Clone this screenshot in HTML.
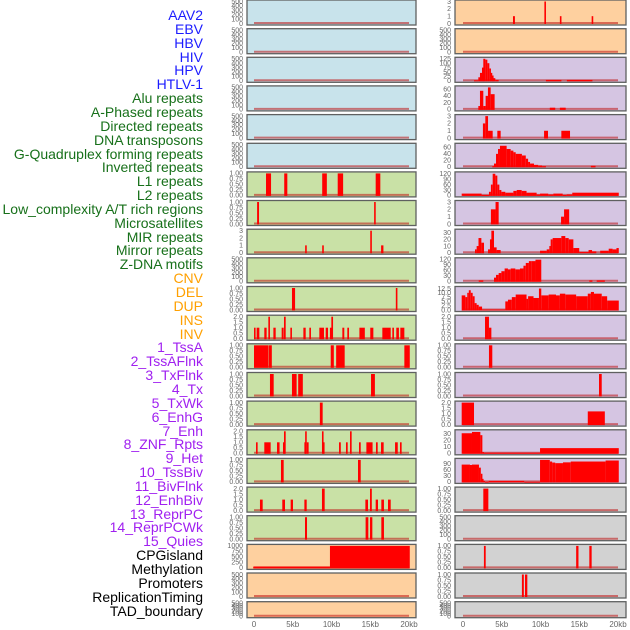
<!DOCTYPE html>
<html><head><meta charset="utf-8"><style>
html,body{margin:0;padding:0;background:#fff;}
#c{position:relative;width:630px;height:630px;overflow:hidden;}
.lab{position:absolute;right:427px;font:14px "Liberation Sans",sans-serif;white-space:nowrap;line-height:16px;}
</style></head><body>
<div id="c">
<svg id="svg" width="630" height="630" style="position:absolute;left:0;top:0"></svg>
</div>
<script>
// ---- labels ----
const labelNames = ["AAV2","EBV","HBV","HIV","HPV","HTLV-1","Alu repeats","A-Phased repeats","Directed repeats","DNA transposons","G-Quadruplex forming repeats","Inverted repeats","L1 repeats","L2 repeats","Low_complexity A/T rich regions","Microsatellites","MIR repeats","Mirror repeats","Z-DNA motifs","CNV","DEL","DUP","INS","INV","1_TssA","2_TssAFlnk","3_TxFlnk","4_Tx","5_TxWk","6_EnhG","7_Enh","8_ZNF_Rpts","9_Het","10_TssBiv","11_BivFlnk","12_EnhBiv","13_ReprPC","14_ReprPCWk","15_Quies","CPGisland","Methylation","Promoters","ReplicationTiming","TAD_boundary"];
const labelGroups = [0,0,0,0,0,0,1,1,1,1,1,1,1,1,1,1,1,1,1,2,2,2,2,2,3,3,3,3,3,3,3,3,3,3,3,3,3,3,3,4,4,4,4,4];
const groupColors = ["#1c1cff","#17701a","#ffa000","#a020f0","#000000"];

// ---- tick sets ----
const T500 = ["0","100","200","300","400","500"];
const T1 = ["0.00","0.25","0.50","0.75","1.00"];
const T2 = ["0.0","0.5","1.0","1.5","2.0"];
const T3 = ["0","1","2","3"];
const T60 = ["0","20","40","60"];
const T120 = ["0","30","60","90","120"];
const T125 = ["0","25","50","75","100","125"];
const T30 = ["0","10","20","30"];
const T1000 = ["0","250","500","750","1000"];
const T12 = ["0.0","2.5","5.0","7.5","10.0","12.5"];
const T90 = ["0","30","60","90"];

// ---- left column data: [startKb, endKb, value] ----
const L6 = [[1.55,2.2,1],[3.9,4.3,1],[8.8,9.4,1],[10.8,11.5,1],[15.7,16.3,1]];
const L7 = [[0.4,0.65,1],[15.5,15.7,1]];
const L8 = [[6.6,6.8,1],[8.8,9.0,1],[15.0,15.2,3],[16.4,16.7,1]];
const L10 = [[4.9,5.3,1],[18.3,18.5,1]];
const L11 = [[0,0.15,1],[0.34,0.69,1],[1.33,1.63,1],[1.85,2.06,2],[2.5,2.8,1],[3.57,3.83,1],[3.87,4.09,2],[4.69,4.86,1],[6.37,6.67,1],[7.14,7.35,1],[8.43,9.03,1],[9.25,9.55,1],[9.8,9.98,1],[9.98,10.2,2],[11.4,11.65,1],[12.04,12.26,1],[13.6,14.3,1],[15.0,15.4,1],[16.56,17.64,1],[17.85,18.06,1],[18.36,18.7,1],[18.88,19.4,1]];
const L12 = [[0,1.85,1],[1.9,2.3,1],[9.9,10.3,1],[10.6,11.7,1],[19.4,20.1,1]];
const L13 = [[2.06,2.54,1],[4.9,5.5,1],[5.7,6.3,1],[15.1,15.6,1]];
const L14 = [[8.5,8.86,1]];
const L15 = [[0.26,0.47,1],[1.33,2.15,1],[2.97,3.3,1],[3.74,3.87,1],[3.87,4.09,2],[6.5,6.6,1],[6.6,6.8,2],[6.8,7.05,1],[8.77,8.9,2],[8.9,9.07,1],[10.97,11.2,1],[11.87,12.09,1],[12.39,12.6,2],[13.55,13.77,1],[14.5,15.3,1],[15.74,15.96,1],[16.39,16.73,1],[18.2,18.55,1],[18.84,19.05,1]];
const L16 = [[3.48,3.83,1],[13.42,13.77,1]];
const L17 = [[0.77,1.12,1],[3.65,4.0,1],[4.73,5.03,1],[6.5,6.8,1],[8.77,9.12,2],[14.37,14.71,1],[14.97,15.2,2],[15.7,16.0,1],[16.43,16.77,1],[17.29,17.64,1]];
const L18 = [[6.58,6.84,1],[14.4,14.75,1],[14.97,15.27,1],[16.43,16.77,1]];
const L19 = [[-0.1,9.8,60],[9.8,20.1,1000]];

// ---- right column data ----
const R0 = [[6.45,6.7,1],[10.5,10.7,3],[12.5,12.7,1],[16.6,16.8,1]];
const R2 = [[1.42,1.98,3],[1.98,2.19,20],[2.19,2.45,45],[2.45,2.62,75],[2.62,2.88,125],[2.88,3.14,120],[3.14,3.4,100],[3.4,3.57,70],[3.57,3.74,45],[3.74,3.91,30],[3.91,4.17,15],[4.17,4.6,5],[10.7,12.7,5],[13.4,16.7,5]];
const R3 = [[1.98,2.19,10],[2.19,2.62,55],[2.62,2.92,10],[2.92,3.22,40],[3.22,3.57,65],[3.57,4.08,45],[11.2,11.9,5],[12.5,13.25,5]];
const R4 = [[2.57,2.88,2],[2.88,3.23,3],[3.23,3.83,1],[4.43,4.86,1],[10.46,10.97,1],[12.69,13.81,1]];
const R5 = [[3.78,4.0,2],[4.0,4.26,10],[4.26,4.52,40],[4.52,4.77,55],[4.77,5.63,65],[5.63,6.15,55],[6.15,6.5,50],[6.5,6.8,45],[6.8,7.6,40],[7.6,8.1,35],[8.1,8.4,25],[8.4,8.65,15],[8.65,9.16,10],[9.16,9.7,6],[9.7,10.2,4],[10.2,10.7,2],[16.5,17.1,3]];
const R6 = [[-0.17,2.4,10],[2.4,3.35,2],[3.35,3.6,20],[3.6,3.83,60],[3.83,4.17,120],[4.17,4.43,110],[4.43,4.69,60],[4.69,4.95,30],[4.95,5.46,20],[5.46,6.5,15],[6.5,6.93,25],[6.93,7.57,30],[7.57,8.2,25],[8.2,9.5,15],[9.5,9.94,5],[9.94,11.0,10],[11.0,11.66,5],[11.66,12.86,10],[12.86,13.38,2],[13.38,14.1,5],[14.1,20.1,15]];
const R7 = [[3.6,4.2,2],[4.2,4.6,3],[12.65,13.04,1],[13.04,13.7,2]];
const R8 = [[1.55,1.76,5],[1.76,2.0,10],[2.0,2.37,22],[2.37,2.71,15],[3.23,3.48,5],[3.48,3.66,20],[3.66,4.0,33],[4.0,4.34,8],[4.34,4.86,4],[9.94,10.8,3],[10.8,11.14,5],[11.14,11.31,10],[11.31,11.57,20],[11.57,12.69,22],[12.69,13.2,25],[13.2,13.64,22],[13.64,14.24,20],[14.24,15.0,7],[15.0,16.2,1],[16.2,16.65,4],[16.65,17.2,2],[17.7,18.8,3],[18.8,19.3,6],[19.3,19.8,5],[19.8,20.1,7]];
const R9 = [[2.03,2.62,5],[4.0,4.26,20],[4.26,4.6,35],[4.6,4.95,45],[4.95,5.37,55],[5.37,5.8,70],[5.8,6.15,65],[6.15,6.75,70],[6.75,7.35,65],[7.35,7.8,70],[7.8,8.1,85],[8.1,8.5,100],[8.5,8.8,110],[8.8,9.35,110],[9.35,10.1,118],[16.3,16.7,5],[17.25,18.3,5]];
const R10 = [[-0.17,0.3,8.5],[0.3,0.55,7.5],[0.55,0.75,10],[0.75,1.0,11.5],[1.0,1.25,10],[1.25,1.5,8],[1.5,1.76,4],[1.76,2.03,3],[2.03,2.46,2],[2.46,5.46,0.3],[5.46,5.8,5],[5.8,6.3,6],[6.3,6.8,7.5],[6.8,8.2,9],[8.2,8.4,6.5],[8.4,9.1,8],[9.1,9.8,7],[9.8,10.1,12.5],[10.1,11.05,8.5],[11.05,12.0,9],[12.0,12.5,8.5],[12.5,13.2,9.5],[13.2,14.6,9],[14.6,16.1,8],[16.1,16.5,9.5],[16.5,16.9,10.5],[16.9,17.9,9.5],[17.9,18.6,8],[18.6,20.1,5.5]];
const R11 = [[2.84,3.35,2],[3.35,3.66,1]];
const R12 = [[3.35,3.78,1]];
const R13 = [[17.55,17.9,1]];
const R14 = [[-0.17,1.42,2],[16.1,18.3,1.2]];
const R15 = [[-0.17,1.16,31],[1.16,2.24,33],[2.24,2.5,28],[2.5,2.7,2],[2.7,9.94,1],[9.94,20.1,8]];
const R16 = [[-0.17,0.9,85],[0.9,1.16,83],[1.16,2.06,85],[2.06,2.3,70],[2.3,2.45,40],[2.45,2.6,15],[2.6,2.84,5],[2.84,3.32,1],[3.32,7.9,5],[7.9,9.94,1],[9.94,11.2,108],[11.2,11.5,100],[11.5,11.9,95],[11.9,12.9,92],[12.9,13.9,96],[13.9,18.4,100],[18.4,20.1,105]];
const R17 = [[2.62,3.27,1]];
const R19 = [[2.7,2.93,1],[14.6,14.9,1],[16.3,16.6,1]];
const R20 = [[7.6,7.85,1],[8.0,8.3,1]];

const xTicks = ["0","5kb","10kb","15kb","20kb"];
const xTickKb = [0,5,10,15,20];

const BLUE="#c8e3eb", GREEN="#c9e1a6", ORANGE="#fed09f", PURPLE="#d5c5e2", GREY="#d2d2d2";
// [color, data, ymax, ticks]
const leftPanels = [
 [BLUE,[],500,T500],[BLUE,[],500,T500],[BLUE,[],500,T500],[BLUE,[],500,T500],[BLUE,[],500,T500],[BLUE,[],500,T500],
 [GREEN,L6,1,T1],[GREEN,L7,1,T1],[GREEN,L8,3,T3],[GREEN,[],500,T500],[GREEN,L10,1,T1],[GREEN,L11,2,T2],
 [GREEN,L12,1,T1],[GREEN,L13,1,T1],[GREEN,L14,1,T1],[GREEN,L15,2,T2],[GREEN,L16,1,T1],[GREEN,L17,2,T2],
 [GREEN,L18,1,T1],[ORANGE,L19,1000,T1000],[ORANGE,[],500,T500],[ORANGE,[],500,T500]];
const rightPanels = [
 [ORANGE,R0,3,T3],[ORANGE,[],500,T500],[PURPLE,R2,125,T125],[PURPLE,R3,65,T60],[PURPLE,R4,3,T3],[PURPLE,R5,68,T60],
 [PURPLE,R6,122,T120],[PURPLE,R7,3,T3],[PURPLE,R8,33,T30],[PURPLE,R9,120,T120],[PURPLE,R10,12.8,T12],[PURPLE,R11,2,T2],
 [PURPLE,R12,1,T1],[PURPLE,R13,1,T1],[PURPLE,R14,2,T2],[PURPLE,R15,34,T30],[PURPLE,R16,108,T90],[GREY,R17,1,T1],
 [GREY,[],500,T500],[GREY,R19,1,T1],[GREY,R20,1,T1],[GREY,[],500,T500]];

const NS="http://www.w3.org/2000/svg";
const svg=document.getElementById('svg');
function mk(tag,attrs){const e=document.createElementNS(NS,tag);for(const k in attrs)e.setAttribute(k,attrs[k]);return e;}
const cols=[{x0:247,w:169,zero:254},{x0:455,w:171,zero:463}];
function xScale(c,kb){return cols[c].zero+kb*7.75;}
function yScale(top,h,ymax,v){return top+h-1.5-(v/ymax)*(h-3);}

[leftPanels,rightPanels].forEach((panels,c)=>{
  panels.forEach((p,i)=>{
    const top=Math.round(i*28.65*10)/10;
    const h=(i===21)?16:25;
    const g=mk('g',{});
    
    
    svg.appendChild(g);
    const r=mk('rect',{x:cols[c].x0,y:top,width:cols[c].w,height:h,fill:p[0],stroke:'#5f6060','stroke-width':1.3});
    
    
    g.appendChild(r);
    const ymax=p[2], ticks=p[3];
    const tmax=parseFloat(ticks[ticks.length-1]);
    ticks.forEach(t=>{
      const v=parseFloat(t);
      const yy=(ymax===500)?yScale(top,h,500,v):yScale(top,h,ymax,v);
      const tx=mk('text',{x:cols[c].x0-4,y:yy+2.3,'text-anchor':'end','font-size':'7px','font-family':'Liberation Sans, sans-serif',fill:'#666'});
      tx.textContent=t;
      
      
      g.appendChild(tx);
    });
    // baseline
    const bl=mk('line',{x1:xScale(c,0),x2:xScale(c,20),y1:yScale(top,h,1,0)-0.5,y2:yScale(top,h,1,0)-0.5,stroke:'rgba(190,20,20,0.55)','stroke-width':2});
    
    
    g.appendChild(bl);
    p[1].forEach(d=>{
      const x1=xScale(c,d[0]), x2=xScale(c,d[1]);
      const y1=yScale(top,h,ymax,d[2]), y0=yScale(top,h,ymax,0)+0.5;
      const b=mk('rect',{x:x1,y:y1,width:Math.max(x2-x1,1.6),height:Math.max(y0-y1,1),fill:'#ff0000'});
      
      
      g.appendChild(b);
    });
  });
  xTicks.forEach((t,k)=>{
    const tx=mk('text',{x:xScale(c,xTickKb[k]),y:627,'text-anchor':'middle','font-size':'8px','font-family':'Liberation Sans, sans-serif',fill:'#666'});
    tx.textContent=t;
    
    
    svg.appendChild(tx);
  });
});

const cont=document.getElementById('c');
labelNames.forEach((n,i)=>{
  const d=document.createElement('div');
  d.className='lab';
  d.style.top=(7+i*13.85)+'px';
  d.style.color=groupColors[labelGroups[i]];
  d.textContent=n;
  
  
  cont.appendChild(d);
});
</script>
</body></html>
